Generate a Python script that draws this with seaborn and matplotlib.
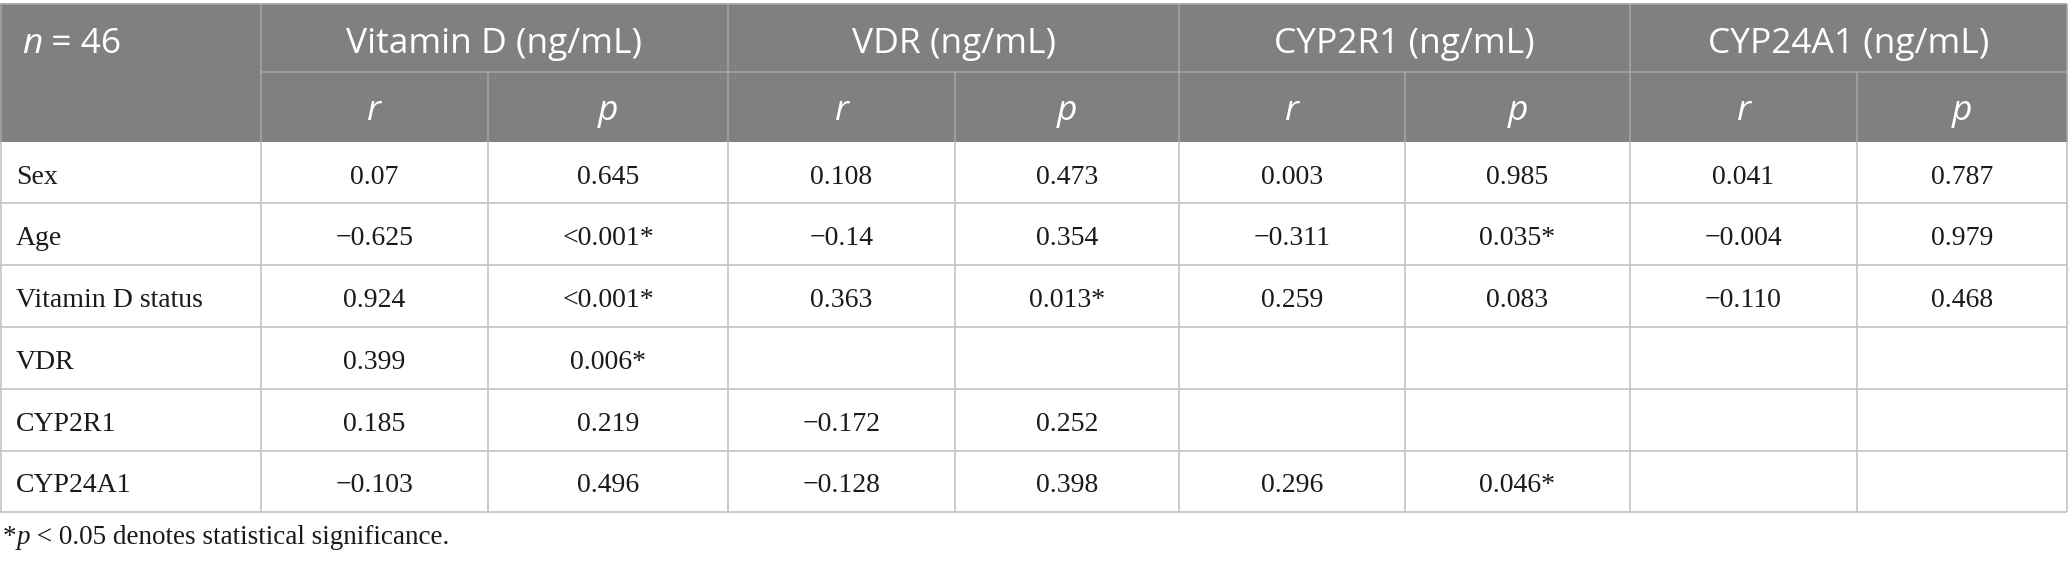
import matplotlib
matplotlib.use("Agg")
import matplotlib.pyplot as plt
import seaborn as sns
import pandas as pd
from matplotlib.patches import Rectangle

# ---------------- data ----------------
n_text = "46"
groups = ["Vitamin D (ng/mL)", "VDR (ng/mL)", "CYP2R1 (ng/mL)", "CYP24A1 (ng/mL)"]
stat_labels = ["r", "p"]
row_labels = ["Sex", "Age", "Vitamin D status", "VDR", "CYP2R1", "CYP24A1"]
vitd_r = ["0.07", "\u22120.625", "0.924", "0.399", "0.185", "\u22120.103"]
vitd_p = ["0.645", "<0.001*", "<0.001*", "0.006*", "0.219", "0.496"]
vdr_r = ["0.108", "\u22120.14", "0.363", "", "\u22120.172", "\u22120.128"]
vdr_p = ["0.473", "0.354", "0.013*", "", "0.252", "0.398"]
cyp2r1_r = ["0.003", "\u22120.311", "0.259", "", "", "0.296"]
cyp2r1_p = ["0.985", "0.035*", "0.083", "", "", "0.046*"]
cyp24a1_r = ["0.041", "\u22120.004", "\u22120.110", "", "", ""]
cyp24a1_p = ["0.787", "0.979", "0.468", "", "", ""]
footnote_rest = " < 0.05 denotes statistical significance."

table = pd.DataFrame({
    "vitd_r": vitd_r, "vitd_p": vitd_p,
    "vdr_r": vdr_r, "vdr_p": vdr_p,
    "cyp2r1_r": cyp2r1_r, "cyp2r1_p": cyp2r1_p,
    "cyp24a1_r": cyp24a1_r, "cyp24a1_p": cyp24a1_p,
}, index=row_labels)

# ---------------- style ----------------
sns.set_theme(style="white")
plt.rcParams["font.family"] = ["Liberation Serif", "DejaVu Serif"]

HEADER_BG = "#808080"
HEADER_LINE = "#a2a2a2"
BODY_LINE = "#c2c2c2"
TEXT_COL = "#1a1a1a"
SANS = ["Open Sans", "DejaVu Sans"]
HEAD_FS = 25.5
BODY_FS = 20
FOOT_FS = 19.5

W, H = 2068, 567
fig = plt.figure(figsize=(W / 100, H / 100), dpi=100)
ax = fig.add_axes([0, 0, 1, 1])
ax.set_xlim(0, W)
ax.set_ylim(H, 0)
ax.axis("off")

col_edges = [0, 261, 488, 728, 955, 1179, 1405, 1630, 1857, 2067]
head_edges = [4, 72, 142]
row_edges = [142, 203, 265, 327, 389, 451, 512]

# header background
ax.add_patch(Rectangle((col_edges[0], head_edges[0]), col_edges[-1] - col_edges[0],
                       head_edges[-1] - head_edges[0], facecolor=HEADER_BG,
                       edgecolor="none", zorder=1))
# header lines
ax.hlines(head_edges[0], col_edges[0], col_edges[-1], color=HEADER_LINE, lw=1.2, zorder=2)
ax.hlines(head_edges[1], col_edges[1], col_edges[-1], color=HEADER_LINE, lw=1.2, zorder=2)
for k in range(len(groups)):
    ax.vlines(col_edges[1 + 2 * k], head_edges[0], head_edges[2], color=HEADER_LINE, lw=1.2, zorder=2)
    ax.vlines(col_edges[2 + 2 * k], head_edges[1], head_edges[2], color=HEADER_LINE, lw=1.2, zorder=2)
ax.vlines([col_edges[0] + 0.5, col_edges[-1]], head_edges[0], head_edges[2], color=HEADER_LINE, lw=1.2, zorder=2)

# body lines
ax.hlines(row_edges[1:], col_edges[0], col_edges[-1], color=BODY_LINE, lw=1.2, zorder=2)
ax.vlines([col_edges[0] + 0.5] + col_edges[1:], row_edges[0], row_edges[-1], color=BODY_LINE, lw=1.2, zorder=2)

# header text
hb1 = (head_edges[0] + head_edges[1]) / 2 + 15
hb2 = (head_edges[1] + head_edges[2]) / 2 + 13
t_n = ax.text(22, hb1, "n", family=SANS, style="italic", fontsize=HEAD_FS,
              color="white", va="baseline", ha="left", zorder=3)
ax.annotate(" = " + n_text, xy=(1, 0), xycoords=t_n, family=SANS, fontsize=HEAD_FS,
            color="white", va="bottom", ha="left", zorder=3)
for k, g in enumerate(groups):
    cx = (col_edges[1 + 2 * k] + col_edges[3 + 2 * k]) / 2
    ax.text(cx, hb1, g, family=SANS, fontsize=HEAD_FS, color="white",
            va="baseline", ha="center", zorder=3)
    for j, s in enumerate(stat_labels):
        c = 1 + 2 * k + j
        ax.text((col_edges[c] + col_edges[c + 1]) / 2, hb2, s, family=SANS, style="italic",
                fontsize=HEAD_FS, color="white", va="baseline", ha="center", zorder=3)

# body text
for i, lab in enumerate(table.index):
    yb = (row_edges[i] + row_edges[i + 1]) / 2 + 11
    ax.text(16, yb, lab, fontsize=BODY_FS, color=TEXT_COL, va="baseline", ha="left", zorder=3)
    for c, colname in enumerate(table.columns):
        val = table.iloc[i, c]
        if val:
            ax.text((col_edges[c + 1] + col_edges[c + 2]) / 2, yb, val, fontsize=BODY_FS,
                    color=TEXT_COL, va="baseline", ha="center", zorder=3)

# footnote
t_star = ax.text(3, 544, "*", fontsize=FOOT_FS, color=TEXT_COL, va="baseline", ha="left")
t_p = ax.annotate("p", xy=(1, 0), xycoords=t_star, fontsize=FOOT_FS, style="italic",
                  color=TEXT_COL, va="bottom", ha="left")
ax.annotate(footnote_rest, xy=(1, 0), xycoords=t_p, fontsize=FOOT_FS,
            color=TEXT_COL, va="bottom", ha="left")

fig.savefig("out.png", dpi=100, facecolor="white")
